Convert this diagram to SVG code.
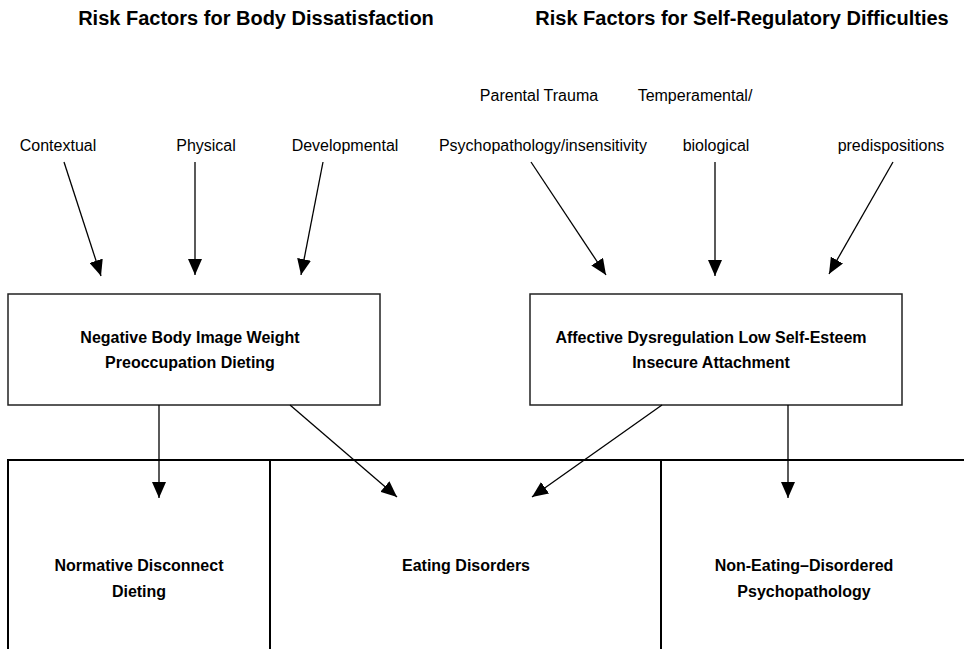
<svg xmlns="http://www.w3.org/2000/svg" width="964" height="649" viewBox="0 0 964 649">
<defs>
<style>
.t{font-family:"Liberation Sans",Arial,sans-serif;font-size:16px;fill:#000}
.b{font-family:"Liberation Sans",Arial,sans-serif;font-size:16px;font-weight:bold;fill:#000}
.h{font-family:"Liberation Sans",Arial,sans-serif;font-size:20px;font-weight:bold;fill:#000}
.box{fill:#fff;stroke:#222;stroke-width:1.5}
.grid{stroke:#000;stroke-width:2;fill:none}
.c{stroke:#000;stroke-width:1.3;fill:none;marker-end:url(#ah)}
</style>
<marker id="ah" markerUnits="userSpaceOnUse" markerWidth="16" markerHeight="14" viewBox="0 0 16 14" refX="16" refY="7" orient="auto">
<path d="M0,0 L16,7 L0,14 Z" fill="#000"/>
</marker>
</defs>
<rect width="964" height="649" fill="#fff"/>
<g id="titles">
<text class="h" x="256" y="25" text-anchor="middle">Risk Factors for Body Dissatisfaction</text>
<text class="h" x="742" y="25" text-anchor="middle">Risk Factors for Self-Regulatory Difficulties</text>
</g>
<g id="factor-contextual"><text class="t" x="58" y="151" text-anchor="middle">Contextual</text></g>
<g id="factor-physical"><text class="t" x="206" y="151" text-anchor="middle">Physical</text></g>
<g id="factor-developmental"><text class="t" x="345" y="151" text-anchor="middle">Developmental</text></g>
<g id="factor-parental">
<text class="t" x="539" y="101" text-anchor="middle">Parental Trauma</text>
<text class="t" x="543" y="151" text-anchor="middle">Psychopathology/insensitivity</text>
</g>
<g id="factor-temperamental">
<text class="t" x="695" y="101" text-anchor="middle">Temperamental/</text>
<text class="t" x="716" y="151" text-anchor="middle">biological</text>
</g>
<g id="factor-predispositions"><text class="t" x="891" y="151" text-anchor="middle">predispositions</text></g>
<g id="box-body">
<rect class="box" x="8" y="294" width="372" height="111"/>
<text class="b" x="190" y="343" text-anchor="middle">Negative Body Image Weight</text>
<text class="b" x="190" y="368" text-anchor="middle">Preoccupation Dieting</text>
</g>
<g id="box-affect">
<rect class="box" x="530" y="294" width="372" height="111"/>
<text class="b" x="711" y="343" text-anchor="middle">Affective Dysregulation Low Self-Esteem</text>
<text class="b" x="711" y="368" text-anchor="middle">Insecure Attachment</text>
</g>
<g id="outcomes">
<path class="grid" d="M8,649 V460 H964 M270,460 V649 M661,460 V649"/>
</g>
<g id="outcome-normative">
<text class="b" x="139" y="571" text-anchor="middle">Normative Disconnect</text>
<text class="b" x="139" y="597" text-anchor="middle">Dieting</text>
</g>
<g id="outcome-ed"><text class="b" x="466" y="571" text-anchor="middle">Eating Disorders</text></g>
<g id="outcome-non-ed">
<text class="b" x="804" y="571" text-anchor="middle">Non-Eating–Disordered</text>
<text class="b" x="804" y="597" text-anchor="middle">Psychopathology</text>
</g>
<g id="connectors">
<line class="c" x1="64" y1="162" x2="101" y2="276"/>
<line class="c" x1="195" y1="162" x2="195" y2="275"/>
<line class="c" x1="323" y1="162" x2="301" y2="275"/>
<line class="c" x1="531" y1="162" x2="606" y2="275"/>
<line class="c" x1="715" y1="162" x2="715" y2="276"/>
<line class="c" x1="893" y1="162" x2="829" y2="274"/>
<line class="c" x1="159" y1="405" x2="159" y2="498"/>
<line class="c" x1="290" y1="405" x2="397" y2="497"/>
<line class="c" x1="662" y1="405" x2="532" y2="497"/>
<line class="c" x1="788" y1="405" x2="788" y2="498"/>
</g>
</svg>
